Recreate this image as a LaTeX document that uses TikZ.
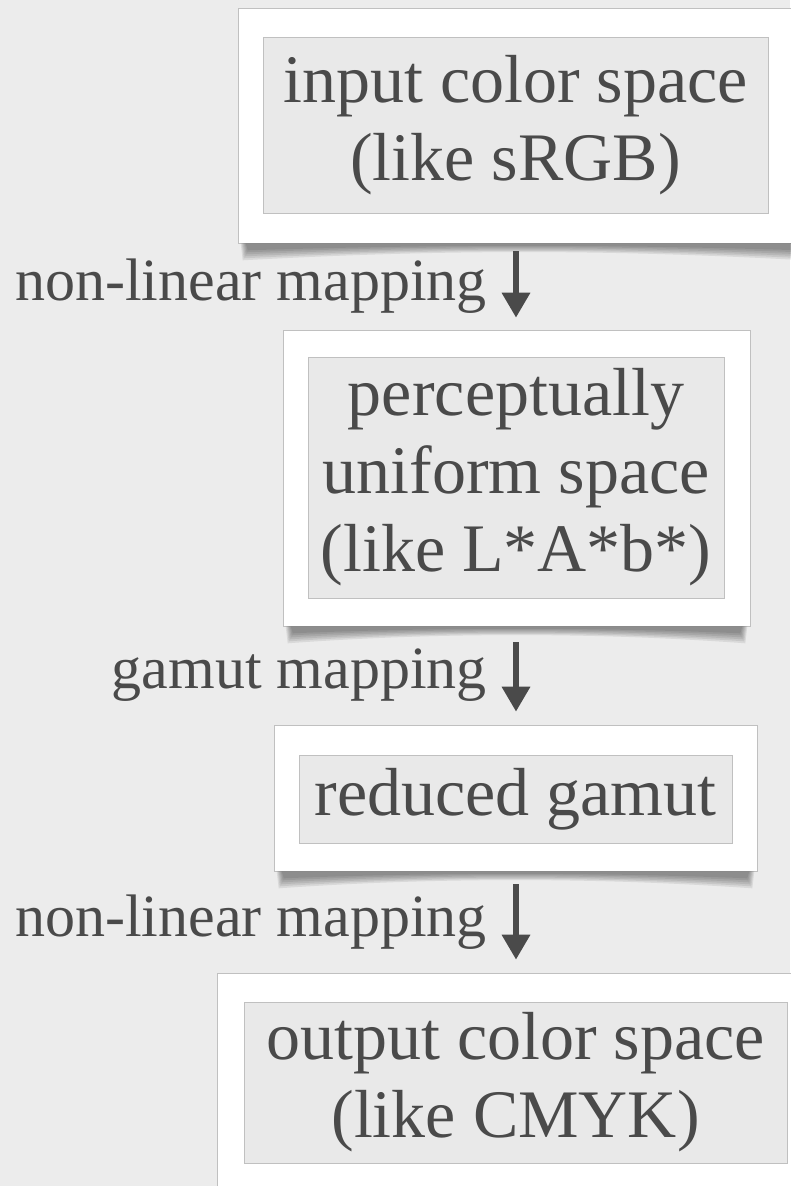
\documentclass[tikz,border=0pt]{standalone}
\usepackage{fontspec}
\setmainfont{Liberation Serif}
\usetikzlibrary{arrows.meta,positioning,calc}

\definecolor{paper}{RGB}{236,236,236}
\definecolor{ink}{RGB}{74,74,74}
\definecolor{panelgray}{RGB}{233,233,233}
\definecolor{rim}{RGB}{192,192,192}

% curled-page shadow under a sheet
\newcommand\curlshadow[1]{%
  \foreach \k in {0,...,5}{%
    \fill[black, opacity=0.08]
      ($(#1.south west)+(3+\k,0)$) -- ($(#1.south east)+(-3-\k,0)$)
      -- ($(#1.south east)+(-5-\k,-17+2*\k)$)
      .. controls ($(#1.south)+(80,-6+\k)$) and ($(#1.south)+(-80,-6+\k)$)
      .. ($(#1.south west)+(5+\k,-17+2*\k)$) -- cycle;
  }}

\begin{document}
\begin{tikzpicture}[x=1pt, y=1pt,
    every node/.style={text=ink},
    sheet/.style={rectangle, draw=rim, line width=0.6pt, fill=white, inner sep=0pt},
    panel/.style={rectangle, draw=rim, line width=0.5pt, fill=panelgray,
                  inner sep=0pt, align=center, font=\fontsize{68}{78}\selectfont},
    arr/.style={draw=ink, line width=6.5pt, -{Triangle[width=27pt, length=25pt]}},
    lbl/.style={font=\fontsize{60}{66}\selectfont, inner sep=0pt},
  ]
  \fill[paper] (0,0) rectangle (790,-1186);
  \useasboundingbox (0,0) rectangle (790,-1186);

  % sheets
  \node[sheet, minimum width=572, minimum height=235] (inp) at (524,-125.5) {};
  \curlshadow{inp}
  \node[sheet, minimum width=467, minimum height=296] (unif) at (516.5,-478) {};
  \curlshadow{unif}
  \node[sheet, minimum width=483, minimum height=146] (red) at (515.5,-798) {};
  \curlshadow{red}
  \node[sheet, minimum width=600, minimum height=230] (outp) at (517,-1088) {};

  % panels with text
  \node[panel, minimum width=505, minimum height=176] (inpT) at (515.5,-125) {input color space\\(like sRGB)};
  \node[panel, minimum width=416, minimum height=241] (unifT) at (516,-477.5) {perceptually\\uniform space\\(like L*A*b*)};
  \node[panel, minimum width=433, minimum height=88] (redT) at (515.5,-799) {reduced gamut};
  \node[panel, minimum width=543, minimum height=161] (outpT) at (515.5,-1082.5) {output color space\\(like CMYK)};

  % mappings
  \coordinate (ax) at (516,0);
  \draw[arr, shorten <=8pt, shorten >=12pt] (inp.south -| ax) -- node[lbl, left=26pt] {non-linear mapping} (unif.north -| ax);
  \draw[arr, shorten <=16pt, shorten >=13pt] (unif.south -| ax) -- node[lbl, left=26pt] {gamut mapping} (red.north -| ax);
  \draw[arr, shorten <=13pt, shorten >=13pt] (red.south -| ax) -- node[lbl, left=26pt] {non-linear mapping} (outp.north -| ax);
\end{tikzpicture}
\end{document}
